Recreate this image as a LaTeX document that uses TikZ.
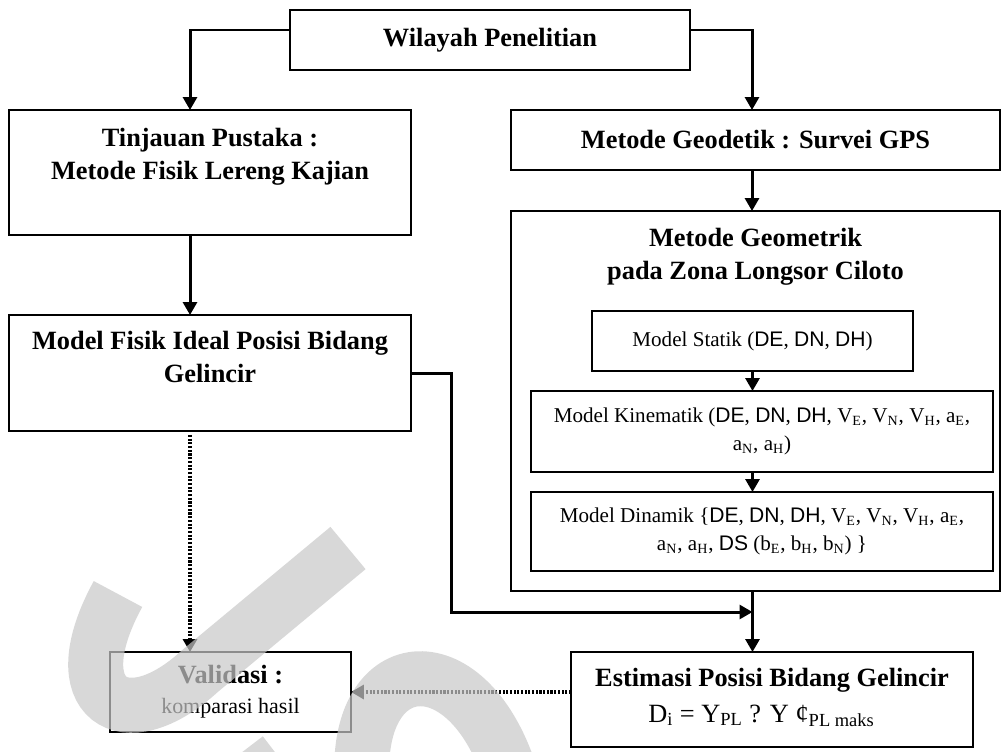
\documentclass[tikz,border=0pt]{standalone}
\usepackage{fontspec}
\setmainfont{Liberation Serif}
\newfontfamily\dfont{Liberation Sans}
\usetikzlibrary{arrows.meta}
\usepackage{xcolor}
\definecolor{markgray}{HTML}{C8C8C8}
\newcommand{\dd}[1]{{\dfont #1}}

\begin{document}
\begin{tikzpicture}[x=0.02cm,y=-0.02cm,>={Triangle[length=0.26cm,width=0.28cm]},
  box/.style={draw,line width=1.1pt,inner sep=0pt,outer sep=0pt},
  head/.style={font=\fontsize{15}{18.5}\selectfont\bfseries,align=center},
  body/.style={font=\fontsize{12}{16}\selectfont,align=center},
  flow/.style={->,line width=1.7pt},
  dots/.style={->,line width=2pt,dash pattern=on 1.2pt off 0.9pt},
  stamp/.style={line width=1.1cm,draw=markgray,opacity=0.7}]
\useasboundingbox (0,0) rectangle (1003,751);
% boxes, placed at pixel positions of the original chart
\node[box,head,minimum width=8cm,minimum height=1.2cm] (wil) at (490,40) {Wilayah Penelitian};
\node[box,minimum width=8.04cm,minimum height=2.5cm] (tin) at (210,172.5) {};
\node[head,inner sep=0pt,anchor=north] (tintxt) at (210,128) {Tinjauan Pustaka :\\Metode Fisik Lereng Kajian};
\node[box,head,minimum width=9.78cm,minimum height=1.2cm] (geo) at (755.5,140) {Metode Geodetik : Survei GPS};
\node[box,minimum width=9.78cm,minimum height=7.6cm] (geom) at (755.5,401) {};
\node[head,inner sep=0pt,anchor=north] (geomtxt) at (755.5,228) {Metode Geometrik\\pada Zona Longsor Ciloto};
\node[box,body,minimum width=6.42cm,minimum height=1.2cm] (sta) at (752.5,341) {Model Statik (\dd{DE}, \dd{DN}, \dd{DH})};
\node[box,body,minimum width=9.24cm,minimum height=1.62cm] (kin) at (762,431.5)
  {Model Kinematik (\dd{DE}, \dd{DN}, \dd{DH}, V\textsubscript{E}, V\textsubscript{N}, V\textsubscript{H}, a\textsubscript{E},\\
   a\textsubscript{N}, a\textsubscript{H})};
\node[box,body,minimum width=9.24cm,minimum height=1.58cm] (din) at (762,531.5)
  {Model Dinamik \{\dd{DE}, \dd{DN}, \dd{DH}, V\textsubscript{E}, V\textsubscript{N}, V\textsubscript{H}, a\textsubscript{E},\\
   a\textsubscript{N}, a\textsubscript{H}, \dd{DS} (b\textsubscript{E}, b\textsubscript{H}, b\textsubscript{N}) \}};
\node[box,minimum width=8.04cm,minimum height=2.32cm] (fis) at (210,373) {};
\node[head,inner sep=0pt,anchor=north] (fistxt) at (210,331) {Model Fisik Ideal Posisi Bidang\\Gelincir};
\node[box,head,font=\fontsize{15}{16}\selectfont\bfseries,minimum width=4.82cm,minimum height=1.6cm] (val) at (230.5,692)
  {Validasi :\\[1pt]{\normalfont\fontsize{12.5}{15}\selectfont komparasi hasil}};
\node[box,minimum width=8.04cm,minimum height=1.9cm] (est) at (772,699.5) {};
\node[head,anchor=base] (esttxt) at (772,686) {Estimasi Posisi Bidang Gelincir};
\node[font=\fontsize{15}{18}\selectfont,anchor=base west,inner sep=0pt] (rumus) at (648,722)
  {D\textsubscript{i} = Y\textsubscript{PL} ? Y ¢\textsubscript{PL maks}};
\coordinate (belok) at (451,612);
% connectors
\draw[flow] ([yshift=0.2cm]wil.west) -| ([xshift=-0.4cm]tin.north);
\draw[flow] ([yshift=0.2cm]wil.east) -| ([xshift=-0.07cm]geo.north);
\draw[flow] ([xshift=-0.07cm]geo.south) -- ([xshift=-0.07cm]geom.north);
\draw[flow] (sta.south) -- (sta.south |- kin.north);
\draw[flow] (kin.south -| sta.south) -- (din.north -| sta.south);
\draw[flow] ([xshift=-0.4cm]tin.south) -- ([xshift=-0.4cm]fis.south |- fis.north);
\draw[flow] (fis.east) -| (belok) -- (belok -| sta.south);
\draw[flow] (geom.south -| sta.south) -- (est.north -| sta.south);
\draw[dots] ([xshift=-0.4cm,yshift=-0.08cm]fis.south) -- ([xshift=-0.4cm]fis.south |- val.north);
\draw[dots] (est.west |- val.east) -- (val.east);
% watermark over the lower left
\begin{scope}
  \clip (0,0) rectangle (1003,751);
  \draw[stamp] (348,548) -- (200,671) .. controls (125,740) and (60,700) .. (118,594);
  \draw[stamp] (362,780) .. controls (355,650) and (470,640) .. (512,780);
  \draw[stamp] (241,753) -- (300,830);
\end{scope}
\end{tikzpicture}
\end{document}
